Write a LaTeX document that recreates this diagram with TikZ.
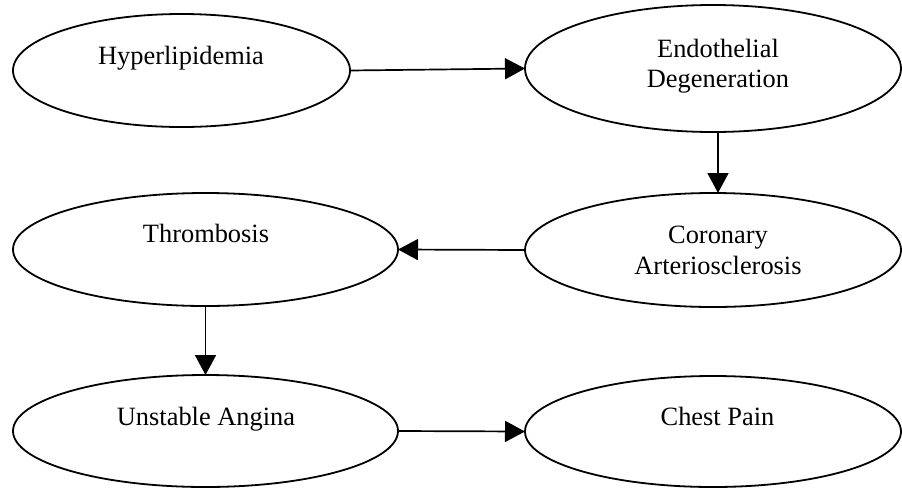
\documentclass[tikz,border=0pt]{standalone}
\usepackage{fontspec}
\setmainfont{Liberation Serif}
\usetikzlibrary{shapes.geometric,arrows.meta}

\tikzset{
  stage/.style={draw=black, line width=1.8pt, ellipse, inner sep=0pt, outer sep=0pt},
  caption/.style={anchor=base, inner sep=0pt, font=\fontsize{26.4}{30.6}\selectfont},
  link/.style={line width=1.7pt, -{Triangle[length=20pt,width=21pt]}}
}

\begin{document}
\begin{tikzpicture}[x=1pt, y=-1pt]
  \useasboundingbox (0,0) rectangle (902,488);

  % disease stages
  \node[stage, minimum width=337pt, minimum height=113pt] (hyper)   at (181.5,70.5) {};
  \node[stage, minimum width=376pt, minimum height=127pt] (endo)    at (713,68.5)   {};
  \node[stage, minimum width=376pt, minimum height=114pt] (coron)   at (713,250)    {};
  \node[stage, minimum width=385pt, minimum height=113pt] (thromb)  at (205.5,249.5){};
  \node[stage, minimum width=385pt, minimum height=112pt] (angina)  at (205.5,431)  {};
  \node[stage, minimum width=376pt, minimum height=111pt] (chest)   at (713,431.5)  {};

  % labels, set on their baselines in the upper part of each stage
  \node[caption] (hyperT)   at (181,64)   {Hyperlipidemia};
  \node[caption] (endoT1)   at (718,57)   {Endothelial};
  \node[caption] (endoT2)   at (718,87.5) {Degeneration};
  \node[caption] (coronT1)  at (718,243)  {Coronary};
  \node[caption] (coronT2)  at (718,274)  {Arteriosclerosis};
  \node[caption] (thrombT)  at (206,242.5){Thrombosis};
  \node[caption] (anginaT)  at (206,425)  {Unstable Angina};
  \node[caption] (chestT)   at (717.5,425){Chest Pain};

  % causal chain
  \draw[link] (hyper.east) -- (endo.west);
  \draw[link] ([xshift=5pt]endo.south) -- ([xshift=5pt]coron.north);
  \draw[link] (coron.west) -- (thromb.east);
  \draw[link] (thromb.south) -- (angina.north);
  \draw[link] (angina.east) -- (chest.west);
\end{tikzpicture}
\end{document}
